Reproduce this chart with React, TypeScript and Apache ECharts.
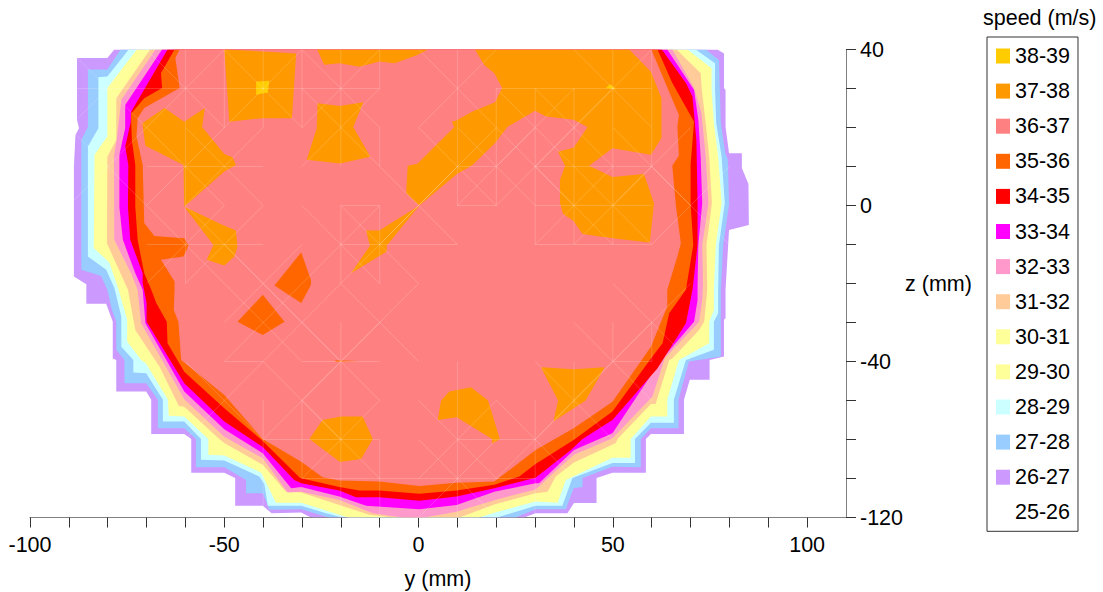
import React, { useEffect, useRef } from "react";
import * as echarts from "echarts";

type Pt = [number, number];

const xTickLabels = [-100, -50, 0, 50, 100];
const zTickLabels: Record<string, string> = { "40": "40", "0": "0", "-40": "-40", "-80": "-120" };
const legendOrder = ["38-39","37-38","36-37","35-36","34-35","33-34","32-33","31-32","30-31","29-30","28-29","27-28","26-27","25-26"];

const band26: Pt[][] = [[[-78.3,40],[-80.1,37.8],[-87.9,37.8],[-87.9,21.9],[-87.4,19.8],[-88.3,18.1],[-88.7,10],[-88.7,-18.2],[-85.5,-20.2],[-85.5,-25.2],[-80.4,-25.2],[-78.7,-29.8],[-78.7,-39.2],[-77.8,-39.6],[-77.8,-47.7],[-70.1,-47.7],[-68.8,-49.8],[-68.8,-58.6],[-60.3,-58.6],[-58.5,-59.9],[-58.5,-68.5],[-50,-68.5],[-47.2,-69.9],[-47.2,-77],[-40.1,-77],[-37.8,-78.9],[-30.2,-78.7],[-28.1,-79.8],[-26.9,-80],[27.2,-80],[30.1,-78.9],[38.3,-78.9],[40,-76.3],[45.8,-76.3],[45.8,-69.9],[49.9,-68.5],[58.5,-68.5],[58.5,-59.9],[59.8,-58.6],[68.3,-58.6],[68.3,-49.8],[69.8,-44.7],[74.9,-44.7],[74.9,-39.6],[78.6,-38.7],[78.6,-29.3],[79,-28.9],[79,-21.6],[79.9,-6.3],[85,-5],[84.9,5.5],[83.2,9.6],[83.2,13.4],[79.9,13.4],[79,20.2],[79,29.6],[78.6,30.1],[78.6,39],[76.9,40]]];
const band27: Pt[][] = [[[-76.7,40],[-80.1,34.9],[-85.1,34.9],[-85.1,20.1],[-86.8,16.8],[-86.8,-16.5],[-81.7,-18.1],[-80.1,-21.6],[-78.9,-26.8],[-77.8,-29.8],[-77.8,-37],[-75.7,-39.6],[-75.7,-45.6],[-70.1,-45.6],[-67.1,-49.8],[-67.1,-57.1],[-60.3,-57.1],[-57.3,-59.9],[-57.3,-67.1],[-50,-67.1],[-44.4,-70.4],[-44.4,-73.8],[-40.1,-73.8],[-38.4,-78],[-30.2,-77.9],[-23.8,-79.8],[-23,-80],[25,-80],[30.1,-77.9],[37.9,-77.9],[39.9,-72.5],[42.2,-72.2],[42.2,-69.9],[49.9,-67],[57.2,-67.1],[57.2,-59.9],[59.8,-57.1],[66.9,-57.1],[66.9,-49.8],[69.6,-40],[77.8,-38.7],[77.8,-21.6],[78.4,-10.1],[79.9,0.2],[79.6,11.7],[78.9,13.5],[77.8,21.2],[77.3,37.3],[73.9,40]]];
const band28: Pt[][] = [[[-74.6,40],[-80.1,33.1],[-82.4,32.9],[-82.4,19.8],[-85.1,15.1],[-85.1,-13.1],[-80.4,-16.5],[-78.3,-21.1],[-76.5,-28.5],[-76.5,-36.2],[-73.4,-39.6],[-73.4,-42.8],[-70.1,-43],[-65.8,-49.8],[-65.8,-55.4],[-60.3,-55.4],[-56,-59.9],[-56,-65.2],[-50,-65.4],[-41,-69.5],[-39.7,-71.4],[-38.8,-77],[-30.2,-77],[-23.8,-78.9],[-20.4,-79.8],[-17,-80],[20.2,-80],[30.1,-77],[37,-77],[39.6,-69.9],[49.9,-66],[55.7,-66],[55.7,-59.9],[59.8,-55.7],[65.7,-55.7],[65.7,-49.8],[68.8,-39.6],[76,-37],[76,-29.8],[77.1,-27.6],[77.1,-21.6],[77.3,-10.1],[78.8,0.6],[78,12.5],[76.6,21.1],[76.3,29.6],[76.3,36.5],[71.3,40]]];
const band29: Pt[][] = [[[-72.5,40],[-80.1,30.1],[-80.1,17.7],[-83.4,13],[-83.6,-10.9],[-79.6,-14.6],[-77.2,-21.6],[-75,-29.3],[-75,-34.9],[-71.4,-39.6],[-70.1,-40.6],[-64.5,-49.8],[-64.3,-53.9],[-60.3,-54.1],[-54.1,-59.9],[-54.1,-63.9],[-50,-64.1],[-40.5,-68.5],[-36.7,-76.2],[-30.2,-76.2],[-20.4,-79.3],[-18.3,-80],[15.6,-80],[19.7,-78.7],[30.1,-75.9],[35.8,-76.2],[37.9,-70.4],[49.9,-64.7],[54.6,-64.7],[54.6,-59.9],[59.8,-54.1],[64,-54.1],[64,-49.8],[67,-39.6],[74.8,-35.3],[74.8,-29.8],[76,-26.8],[76,-21.6],[76.5,-10.1],[78,0.6],[77.1,12.5],[76,21.1],[75.4,29.6],[75.4,35.2],[69.2,40]]];
const band30: Pt[][] = [];
const band31: Pt[][] = [[[-69.1,40],[-77.8,27.5],[-77.8,16.8],[-80.1,12.5],[-80.2,-9.7],[-74.8,-21.6],[-72.9,-31.9],[-66.7,-41.3],[-61.7,-51.4],[-60.3,-51.6],[-51.3,-59.9],[-50,-60.9],[-40.1,-66.5],[-34.1,-73.4],[-30.2,-73.6],[-20.4,-76.8],[-12.7,-79.3],[-6.7,-80],[10.5,-80],[19.7,-76.6],[30.1,-73.8],[33.2,-73.4],[35.3,-69.5],[40,-65.9],[50.8,-60.9],[51.2,-59.9],[59.8,-50.9],[61,-50.9],[64.5,-39.6],[65.3,-39.2],[72.2,-31.9],[73.5,-29.8],[74.3,-21.6],[74.1,-10.1],[75.5,0.6],[74.8,12.5],[73.9,21.1],[72.9,29.6],[72.6,33.9],[66.4,40]]];
const band32: Pt[][] = [[[-67.7,40],[-76.5,27.1],[-77.7,16.8],[-78.4,12.5],[-78.3,-8.8],[-74,-17.4],[-72.3,-21.6],[-71.4,-30.2],[-60.3,-49.7],[-50,-59.3],[-40.1,-64.8],[-33.7,-73.6],[-30.2,-73.4],[-20.4,-75.5],[-11.8,-78.9],[-4.2,-80],[1.5,-80],[9.8,-78.5],[19.7,-75.5],[30.1,-72.8],[34.5,-68.8],[40,-63.9],[49.9,-59.7],[60.2,-49],[63.4,-39.1],[72.2,-29.8],[73,-24.2],[73.2,-20.4],[73,-10.1],[74.6,0.6],[73.9,12.5],[72.8,23.7],[70.9,30.1],[65.3,40]]];
const band33: Pt[][] = [[[-66,40],[-75.5,25.8],[-75.5,19.9],[-77,13],[-77,-0.4],[-76.1,-8.8],[-72.9,-17.4],[-71,-21.6],[-70.3,-30.2],[-60.3,-47.7],[-50,-57.4],[-40.1,-63.5],[-32.8,-72.5],[-30.2,-72.2],[-20.4,-74.6],[-13.5,-77],[0.2,-77.9],[9.8,-76.8],[19.5,-73.4],[30.1,-71.2],[31,-71.2],[40,-62.7],[49.9,-58.4],[62.4,-39.6],[70.9,-29.8],[71.8,-24.2],[71.8,-20.4],[72,-10.1],[73,0.6],[72.6,12.5],[72,22],[70.9,29.6],[64,40]]];
const band34: Pt[][] = [[[-64.6,40],[-74,24],[-74.1,21.2],[-75.5,15.1],[-74.7,10.4],[-74.8,-0.3],[-74.2,-8.8],[-71,-17.4],[-71,-19.9],[-70,-25],[-70,-29.8],[-60.3,-45.6],[-50,-55.4],[-40.1,-61.9],[-32,-70.4],[-30.2,-71.2],[-20.4,-73.1],[-16.1,-74.8],[-10.1,-74.8],[0.2,-75.7],[9.8,-74.6],[19.5,-72.5],[30.1,-69.8],[39.2,-62.7],[42.2,-59.9],[49.9,-55],[61.5,-41.7],[68.8,-30.2],[70.5,-21.6],[71.8,-10.1],[71.8,0.6],[71.5,16.8],[70.5,27.9],[68.8,31.4],[62.6,40]]];
const band35: Pt[][] = [
  [[-62.8,40],[-66.3,34],[-66,30.1],[-70.6,27.5],[-74,23.5],[-73.8,16.8],[-72.9,10.4],[-72.9,-0.3],[-72.3,-8.8],[-70.6,-17.4],[-68.8,-21.6],[-67.5,-25],[-64.8,-29.8],[-64.6,-35.3],[-60.3,-42.6],[-50,-52],[-40.1,-60.4],[-30.5,-69.9],[-20.4,-72.2],[-15.2,-73.1],[-10.1,-73.1],[0.2,-73.9],[9.8,-73.1],[19.5,-71.6],[25.9,-69.5],[30.1,-66.3],[39.9,-60.1],[49.9,-52.8],[59.8,-39.2],[62.8,-35.3],[64.5,-27.6],[68.8,-21.6],[70.7,-10.1],[70,0.6],[70,10.4],[70.9,21.5],[65.3,31.4],[61.5,40]],
];
const band36: Pt[][] = [[[-61.5,40],[-62.6,37.8],[-61.5,30.1],[-70.6,25],[-72.3,22.4],[-72.6,17.7],[-71,10.4],[-70.6,-4.5],[-68,-7.8],[-60.3,-8.4],[-59.2,-10.3],[-60.5,-13.1],[-66.3,-13.9],[-62.8,-19.5],[-62.8,-21.6],[-63,-26.8],[-61.8,-29.8],[-61.1,-39.6],[-50,-48.6],[-40.1,-59.9],[-30.2,-65.7],[-24.7,-69.7],[-20.4,-70.5],[-10.1,-70.8],[0.2,-71.9],[9.8,-71.1],[19.5,-70.8],[30.1,-62.7],[39.9,-57.1],[49.9,-50.3],[59.8,-36.2],[64,-25.9],[64,-21.6],[66.6,-13.1],[67.5,-9.7],[66.2,0.2],[65.3,10.2],[67,12.8],[66.6,20.2],[67,23.2],[59.9,40]]];
const band35Islands: Pt[][] = [
  [[-40.1,-22.9],[-34.5,-29.8],[-40.1,-33.2],[-46.6,-29.8]],
  [[-30.2,-12],[-27.7,-19.1],[-27.7,-20.4],[-30.2,-25],[-37.1,-20.5]],
  [[-21.7,-39.7],[-15.5,-39.9],[-21,-40.1]],
];
const band37: Pt[][] = [
  [[-50,40],[-40.1,39.5],[-31.5,39],[-32.6,22.4],[-40.1,22.4],[-48.7,21.5]],
  [[-26.1,40],[-24.3,36.1],[-20.4,36.5],[-15.2,35.6],[-10.1,36.9],[-6.2,36.5],[-0.3,38.6],[2.4,40]],
  [[-26,26.2],[-20.4,25.5],[-14.2,26.5],[-16.8,20.1],[-12.4,12.5],[-20.2,10.8],[-28.8,11.7],[-26.2,19.8]],
  [[-65.4,25],[-60.3,21.5],[-55,25],[-55.7,20.1],[-50,13.2],[-47.9,12.4],[-47,10.4],[-50,8.7],[-60.3,-0.3],[-60.5,10.4],[-70.3,15.3],[-71.1,21.1]],
  [[-60.3,-0.3],[-50.4,-5],[-47,-6.4],[-46.6,-10.5],[-47.4,-13.1],[-50,-15.4],[-54.5,-13.9],[-52.8,-10.1]],
  [[-13.5,-6.4],[-10.1,-6.4],[0.2,0],[-8.2,-10.3],[-8.2,-11.8],[-17.4,-17.4],[-12.5,-10.3]],
  [[0.2,0],[-3.2,3.2],[-2.8,10.2],[-0.3,10.7],[9.2,20.1],[8.5,21.5],[9.6,21.7],[13.9,24.1],[19.7,26.5],[21.5,30.1],[19.5,33.9],[16.9,36],[14.5,40],[54.2,40],[59.8,34.3],[62.5,27.5],[62.5,17.3],[59.8,13],[49.9,14.7],[43.9,10.2],[49.9,7.3],[58,8.1],[60.6,0.6],[59.5,-9.5],[49.9,-8.4],[42.2,-7.3],[39.8,-3.9],[37.2,-2.2],[36.4,0.6],[36.4,6.6],[37.7,10.2],[35.9,13.8],[39.9,14.8],[43.5,20.1],[39.9,22],[32.8,22.8],[30,24.3],[22.9,20.2],[19.7,16],[13.9,10.4],[9.8,8]],
  [[-24.7,-55],[-20,-54.1],[-14.4,-54.1],[-11.8,-59.9],[-14.8,-65],[-20.2,-65.8],[-28.1,-59.9]],
  [[7.9,-47.7],[13.5,-46.6],[17.9,-50],[20.9,-59.9],[19,-61.1],[18.9,-59.9],[9.8,-54.3],[4.9,-55],[5.8,-50]],
  [[31.5,-41.5],[39.9,-42],[47.9,-41.5],[43,-50],[34.7,-55.4],[35.9,-50]],
];
const band38: Pt[][] = [
  [[-41.8,31.8],[-38.4,32],[-38.8,29],[-41.8,28.4]],
  [[48.2,30.1],[50.8,29.8],[49.3,31.1]],
];

// Faint seams of the contour mesh: straight seams as [y1, z1, y2, z2], crossings as [y, z]
const meshLines: [number, number, number, number][] = [
  [-90,30,-10,30],[20,30,60,30],[-70,10,-40,10],[10,10,20,10],[30,10,60,10],
  [-20,0,-10,0],[10,0,20,0],[30,0,60,0],[-70,-10,-40,-10],[-20,-10,10,-10],[30,-10,60,-10],
  [-50,-40,-40,-40],[-30,-40,-10,-40],[50,-40,60,-40],[-40,-60,-10,-60],[10,-60,30,-60],[-30,-70,30,-70],
  [-60,40,-60,-20],[-50,40,-50,20],[-40,40,-40,20],[-30,40,-30,20],[-20,40,-20,10],[-10,40,-10,30],[-10,20,-10,10],
  [-20,0,-20,-20],[-10,0,-10,-20],[10,40,10,0],[20,30,20,0],[30,30,30,-10],[40,30,40,-10],[50,40,50,-10],[60,40,60,10],
  [-40,-50,-40,-80],[-30,-50,-30,-70],[-20,-30,-20,-80],[-10,-60,-10,-80],[10,-40,10,-80],[30,-50,30,-80],[40,-40,40,-60],[50,-30,50,-40],[60,-30,60,-40],
];
const meshCrosses: Pt[] = [
  [-80,30],[-60,30],[-40,30],[-20,30],[-20,20],[-60,10],[-50,10],[-80,10],[-50,-10],[-60,-10],[-10,-10],[-20,-10],
  [-40,-20],[-40,-30],[-30,-30],[-20,-40],[-50,-50],[-30,-50],[-20,-60],[-10,-30],[10,10],[20,10],[30,10],[40,20],[30,20],[40,0],[50,0],[60,10],
  [50,30],[10,30],[0,0],[10,-60],[30,-60],[40,-50],[50,-40],[60,-30],[10,-70],[70,0],
];

const bands: { name: string; color: string; polys: Pt[][] }[] = [
  { name: "25-26", color: "#FFFFFF", polys: [] },
  { name: "26-27", color: "#CC99FF", polys: band26 },
  { name: "27-28", color: "#99CCFF", polys: band27 },
  { name: "28-29", color: "#CCFFFF", polys: band28 },
  { name: "29-30", color: "#FFFF99", polys: band29 },
  { name: "30-31", color: "#FFFF99", polys: band30 },
  { name: "31-32", color: "#FFCC99", polys: band31 },
  { name: "32-33", color: "#FF99CC", polys: band32 },
  { name: "33-34", color: "#FF00FF", polys: band33 },
  { name: "34-35", color: "#FF0000", polys: band34 },
  { name: "35-36", color: "#FF6600", polys: band35 },
  { name: "36-37", color: "#FF8080", polys: band36 },
  { name: "35-36", color: "#FF6600", polys: band35Islands },
  { name: "37-38", color: "#FF9900", polys: band37 },
  { name: "38-39", color: "#FFCC00", polys: band38 },
];

const meshSegments: number[][] = [
  ...meshLines,
  ...meshCrosses.flatMap(([y, z]) => [
    [y - 10, z + 10, y + 10, z - 10],
    [y - 10, z - 10, y + 10, z + 10],
  ]),
].filter((s) => Math.max(s[1], s[3]) <= 40 && Math.min(s[1], s[3]) >= -80);

const FONT = "'Liberation Sans', Arial, sans-serif";
const FS = 21.5;

export default function App() {
  const ref = useRef<HTMLDivElement>(null);
  useEffect(() => {
    document.body.style.margin = "0";
    const chart = echarts.init(ref.current!, null, { renderer: "svg" });
    chart.setOption({
      animation: false,
      backgroundColor: "#fff",
      textStyle: { fontFamily: FONT },
      title: {
        text: "speed (m/s)", left: 983, top: 7, padding: 0,
        textStyle: { fontFamily: FONT, fontSize: FS, fontWeight: "normal", color: "#000" },
      },
      grid: { left: 30, width: 816, top: 49.5, height: 468, outerBoundsMode: "none" },
      xAxis: {
        type: "value", min: -100, max: 110, interval: 10, splitLine: { show: false },
        axisLine: { onZero: false, lineStyle: { color: "#808080", width: 1 } },
        axisTick: { length: 10, lineStyle: { color: "#333" } },
        axisLabel: {
          margin: 16, fontSize: FS, color: "#000", fontFamily: FONT,
          showMaxLabel: false,
          formatter: (v: number) => (xTickLabels.includes(v) ? String(v) : ""),
        },
        name: "y (mm)", nameLocation: "middle", nameGap: 50,
        nameTextStyle: { fontSize: FS, color: "#000", fontFamily: FONT },
      },
      yAxis: {
        type: "value", position: "right", min: -80, max: 40, interval: 10, splitLine: { show: false },
        axisLine: { onZero: false, lineStyle: { color: "#808080", width: 1 } },
        axisTick: { length: 10, lineStyle: { color: "#333" } },
        axisLabel: {
          margin: 14, fontSize: FS, color: "#000", fontFamily: FONT,
          formatter: (v: number) => zTickLabels[String(v)] ?? "",
        },
        name: "z (mm)", nameLocation: "middle", nameGap: 59, nameRotate: 0, nameMoveOverlap: false,
        nameTextStyle: { fontSize: FS, color: "#000", fontFamily: FONT, align: "left" },
      },
      legend: {
        data: legendOrder, orient: "vertical", left: 987, top: 37, icon: "rect",
        itemWidth: 14, itemHeight: 15, itemGap: 13.1, selectedMode: false,
        padding: [8, 8, 8, 9], borderColor: "#333", borderWidth: 1, backgroundColor: "#fff",
        textStyle: { fontSize: FS, color: "#000", fontFamily: FONT },
      },
      series: [
        ...bands.map((b) => ({
          type: "custom", name: b.name, coordinateSystem: "cartesian2d", clip: true, silent: true,
          itemStyle: { color: b.color },
          data: b.polys.map((_, i) => [i]),
          renderItem: (_p: any, api: any) => ({
            type: "polygon",
            shape: { points: b.polys[api.value(0)].map((pt) => api.coord(pt)) },
            style: { fill: b.color, stroke: "none" },
          }),
        })),
        {
          type: "custom", name: "mesh", coordinateSystem: "cartesian2d", clip: true, silent: true,
          data: meshSegments,
          renderItem: (_p: any, api: any) => {
            const a = api.coord([api.value(0), api.value(1)]);
            const b = api.coord([api.value(2), api.value(3)]);
            return {
              type: "line",
              shape: { x1: a[0], y1: a[1], x2: b[0], y2: b[1] },
              style: { stroke: "rgba(255,255,255,0.18)", lineWidth: 1, fill: "none" },
            };
          },
        },
      ],
    });
    return () => chart.dispose();
  }, []);
  return <div ref={ref} style={{ width: 1103, height: 592 }} />;
}
